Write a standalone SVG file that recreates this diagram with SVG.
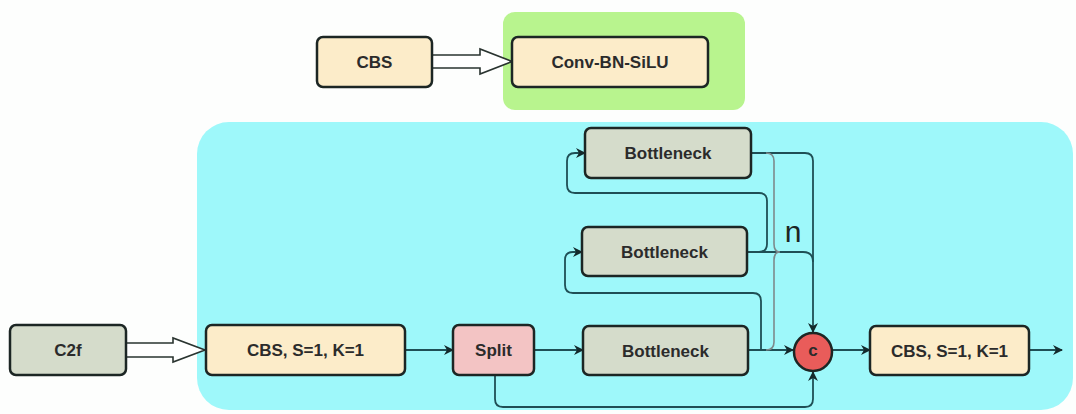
<svg xmlns="http://www.w3.org/2000/svg" width="1076" height="414" viewBox="0 0 1076 414">
<defs>
<style>
.box{stroke:#1c2624;stroke-width:2.5}
.cbs{fill:#fcecc9}
.gb{fill:#d5dccb}
.sp{fill:#f3c4c4}
.t{font-family:"Liberation Sans",Arial,sans-serif;font-weight:bold;font-size:17px;fill:#2b2b2b;text-anchor:middle}
.c{fill:none;stroke:#1f4f55;stroke-width:1.8}
.hol{fill:#ffffff;stroke:#2a3430;stroke-width:1.6}
</style>
<marker id="ah" viewBox="0 0 10 10" refX="9" refY="5" markerWidth="10" markerHeight="10" markerUnits="userSpaceOnUse" orient="auto">
<path d="M0,0 L10,5 L0,10 L3,5 z" fill="#142a2c"/>
</marker>
</defs>
<rect width="1076" height="414" fill="#fdfefd"/>
<rect id="green-bg" x="503" y="12" width="242" height="98" rx="12" fill="#b8f48e"/>
<rect id="cyan-bg" x="197" y="122" width="876" height="288" rx="32" fill="#9ef8fa"/>

<g id="connectors">
<path class="hol" d="M432,55 L480,55 L480,49 L512,61.5 L480,74 L480,68 L432,68 Z"/>
<path class="hol" d="M126,343 L173,343 L173,338 L205,350 L173,362 L173,357 L126,357 Z"/>
<path class="c" d="M405,350 L453,350" marker-end="url(#ah)"/>
<path class="c" d="M534,350 L583,350" marker-end="url(#ah)"/>
<path class="c" d="M748,350 L793,350" marker-end="url(#ah)"/>
<path class="c" d="M832,350 L870,350" marker-end="url(#ah)"/>
<path class="c" d="M495,375 L495,399 Q495,407 503,407 L805,407 Q813,407 813,399 L813,372" marker-end="url(#ah)"/>
<path class="c" d="M761,350 L761,301 Q761,293 753,293 L573,293 Q565,293 565,285 L565,260 Q565,252 573,252 L582,252" marker-end="url(#ah)"/>
<path class="c" d="M747,252 L759,252 Q767,252 767,244 L767,201 Q767,193 759,193 L575,193 Q567,193 567,185 L567,161 Q567,153 575,153 L585,153" marker-end="url(#ah)"/>
<path class="c" d="M751,153 L805,153 Q813,153 813,161 L813,332" marker-end="url(#ah)"/>
<path class="c" d="M747,252 L803,252 Q813,252 813,262"/>
<path class="c" d="M1029,350 L1062,350" marker-end="url(#ah)"/>
<path d="M766,153 Q774,153 774,161 L774,244 Q774,252 780,252 Q774,252 774,260 L774,342 Q774,350 766,350" fill="none" stroke="#7d8a8c" stroke-width="1.6"/>
<text x="793" y="242" font-family="Liberation Sans,Arial,sans-serif" font-size="30" fill="#1c2624" text-anchor="middle">n</text>
</g>

<g id="cbs-legend"><rect class="box cbs" x="317" y="37" width="115" height="50" rx="6"/><text class="t" x="374.5" y="68">CBS</text></g>
<g id="conv-bn-silu"><rect class="box cbs" x="512" y="37" width="196" height="50" rx="6"/><text class="t" x="610" y="68">Conv-BN-SiLU</text></g>
<g id="c2f"><rect class="box gb" x="10" y="325" width="116" height="50" rx="6"/><text class="t" x="68" y="356">C2f</text></g>
<g id="cbs-in"><rect class="box cbs" x="206" y="325" width="199" height="50" rx="6"/><text class="t" x="305.5" y="356">CBS, S=1, K=1</text></g>
<g id="split"><rect class="box sp" x="453" y="325" width="81" height="50" rx="6"/><text class="t" x="493.5" y="356">Split</text></g>
<g id="bottleneck1"><rect class="box gb" x="583" y="326" width="165" height="49" rx="6"/><text class="t" x="665.5" y="356.5">Bottleneck</text></g>
<g id="bottleneck2"><rect class="box gb" x="582" y="227" width="165" height="49" rx="6"/><text class="t" x="664.5" y="257.5">Bottleneck</text></g>
<g id="bottleneck3"><rect class="box gb" x="585" y="128" width="166" height="50" rx="6"/><text class="t" x="668" y="159">Bottleneck</text></g>
<g id="concat"><circle cx="813" cy="352" r="19" fill="#e95c5a" stroke="#1c2624" stroke-width="2.5"/><text class="t" x="813" y="356" font-size="12" fill="#7a1f1f">c</text></g>
<g id="cbs-out"><rect class="box cbs" x="870" y="326" width="159" height="49" rx="6"/><text class="t" x="949.5" y="356.5">CBS, S=1, K=1</text></g>
</svg>
